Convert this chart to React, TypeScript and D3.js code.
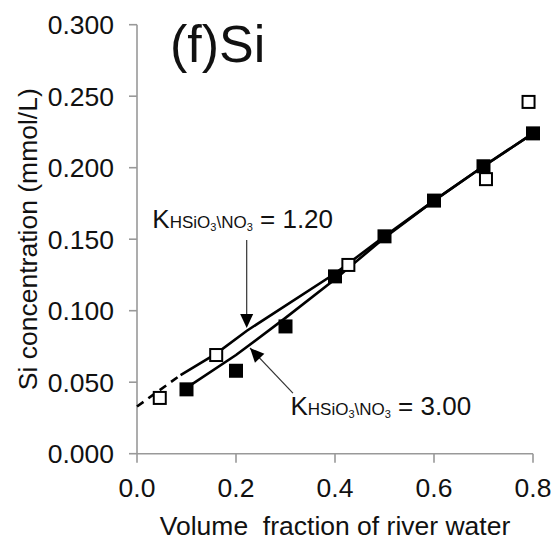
import React from "react";
import * as d3 from "d3";

// ---- data ----
const filledX = [0.1, 0.2, 0.3, 0.4, 0.5, 0.6, 0.7, 0.8];
const filledY = [0.045, 0.058, 0.089, 0.124, 0.152, 0.177, 0.201, 0.224];
const openX = [0.046, 0.16, 0.427, 0.705, 0.791];
const openY = [0.039, 0.069, 0.132, 0.192, 0.246];
// model line K = 1.20 (upper)
const k120DashX = [0.0, 0.088];
const k120DashY = [0.033, 0.055];
const k120X = [0.088, 0.16, 0.222, 0.4, 0.5, 0.6, 0.7, 0.8];
const k120Y = [0.055, 0.07, 0.086, 0.126, 0.152, 0.177, 0.201, 0.224];
// model line K = 3.00 (lower)
const k300X = [0.1, 0.2, 0.3, 0.4, 0.5, 0.6, 0.7, 0.8];
const k300Y = [0.046, 0.069, 0.095, 0.122, 0.151, 0.177, 0.201, 0.224];
const xTicks = [0.0, 0.2, 0.4, 0.6, 0.8];
const yTicks = [0.0, 0.05, 0.1, 0.15, 0.2, 0.25, 0.3];
const title = "(f)Si";
const xLabel = "Volume  fraction of river water";
const yLabel = "Si concentration (mmol/L)";
const kValues = ["1.20", "3.00"];

const FONT = "'Liberation Sans', Arial, sans-serif";

export default function App() {
  const x = d3.scaleLinear().domain([0, 0.8]).range([137, 533]);
  const y = d3.scaleLinear().domain([0, 0.3]).range([453.7, 24.7]);
  const line = d3
    .line<[number, number]>()
    .x((d) => x(d[0]))
    .y((d) => y(d[1]));
  const zip = (a: number[], b: number[]) =>
    a.map((v, i) => [v, b[i]] as [number, number]);

  const fmtY = d3.format(".3f");
  const fmtX = d3.format(".1f");

  // annotation anchors (data units)
  const a1Tip = [0.2216, 0.0879];
  const a1Start = [0.2216, 0.1494];
  const a2Tip = [0.2283, 0.0739];
  const a2Tail = [0.315, 0.0424];
  const l1 = [0.031, 0.1578];
  const l2 = [0.31, 0.0271];

  const arrowHead = (tx: number, ty: number, fx: number, fy: number) => {
    const ang = Math.atan2(ty - fy, tx - fx);
    const len = 14,
      half = 6.5;
    const bx = tx - len * Math.cos(ang),
      by = ty - len * Math.sin(ang);
    const px = -Math.sin(ang) * half,
      py = Math.cos(ang) * half;
    return `M${tx},${ty}L${bx + px},${by + py}L${bx - px},${by - py}Z`;
  };

  const kLabel = (pos: number[], val: string, key: string) => (
    <text
      key={key}
      x={x(pos[0])}
      y={y(pos[1])}
      fontSize={26}
      fontFamily={FONT}
      fill="#111"
      style={{ whiteSpace: "pre" }}
    >
      K
      <tspan fontSize={17}>HSiO</tspan>
      <tspan fontSize={11} dy={3}>3</tspan>
      <tspan fontSize={17} dy={-3}>{"\\NO"}</tspan>
      <tspan fontSize={11} dy={3}>3</tspan>
      <tspan fontSize={26} dy={-3}>{" = " + val}</tspan>
    </text>
  );

  const a1t = [x(a1Tip[0]), y(a1Tip[1])];
  const a1s = [x(a1Start[0]), y(a1Start[1])];
  const a2t = [x(a2Tip[0]), y(a2Tip[1])];
  const a2s = [x(a2Tail[0]), y(a2Tail[1])];

  return (
    <svg
      width={560}
      height={541}
      style={{ position: "absolute", left: 0, top: 0, background: "#fff" }}
    >
      {/* axes */}
      <g stroke="#999" strokeWidth={1.6} fill="none">
        <line x1={137} x2={137} y1={y(0.3)} y2={y(0)} />
        <line x1={137} x2={x(0.8)} y1={y(0)} y2={y(0)} />
        {yTicks.map((t) => (
          <line key={"yt" + t} x1={129} x2={137} y1={y(t)} y2={y(t)} />
        ))}
        {xTicks.map((t) => (
          <line key={"xt" + t} x1={x(t)} x2={x(t)} y1={y(0)} y2={y(0) + 9} />
        ))}
      </g>
      <g fontFamily={FONT} fontSize={26.5} fill="#111">
        {yTicks.map((t) => (
          <text key={"yl" + t} x={114} y={y(t) + 9.5} textAnchor="end">
            {fmtY(t)}
          </text>
        ))}
        {xTicks.map((t) => (
          <text key={"xl" + t} x={x(t)} y={497} textAnchor="middle">
            {fmtX(t)}
          </text>
        ))}
        <text x={335} y={535} textAnchor="middle" style={{ whiteSpace: "pre" }}>
          {xLabel}
        </text>
        <text
          transform={`translate(37,${y(0.15)}) rotate(-90)`}
          textAnchor="middle"
        >
          {yLabel}
        </text>
      </g>
      <text x={170} y={62} fontFamily={FONT} fontSize={52} fill="#111">
        {title}
      </text>

      {/* model lines */}
      <path
        d={line(zip(k120DashX, k120DashY)) || ""}
        fill="none"
        stroke="#000"
        strokeWidth={2.6}
        strokeDasharray="8,6"
      />
      <path
        d={line(zip(k120X, k120Y)) || ""}
        fill="none"
        stroke="#000"
        strokeWidth={2.6}
      />
      <path
        d={line(zip(k300X, k300Y)) || ""}
        fill="none"
        stroke="#000"
        strokeWidth={2.6}
      />

      {/* markers */}
      {zip(filledX, filledY).map((d, i) => (
        <rect
          key={"f" + i}
          x={x(d[0]) - 7}
          y={y(d[1]) - 7}
          width={14}
          height={14}
          fill="#000"
        />
      ))}
      {zip(openX, openY).map((d, i) => (
        <rect
          key={"o" + i}
          x={x(d[0]) - 6}
          y={y(d[1]) - 6}
          width={12}
          height={12}
          fill="#fff"
          stroke="#000"
          strokeWidth={2}
        />
      ))}

      {/* annotations */}
      <line
        x1={a1s[0]}
        y1={a1s[1]}
        x2={a1t[0]}
        y2={a1t[1] - 10}
        stroke="#333"
        strokeWidth={1.2}
      />
      <path d={arrowHead(a1t[0], a1t[1], a1s[0], a1s[1])} fill="#000" />
      <line
        x1={a2s[0]}
        y1={a2s[1]}
        x2={a2t[0]}
        y2={a2t[1]}
        stroke="#333"
        strokeWidth={1.2}
      />
      <path d={arrowHead(a2t[0], a2t[1], a2s[0], a2s[1])} fill="#000" />
      {kLabel(l1, kValues[0], "k1")}
      {kLabel(l2, kValues[1], "k2")}
    </svg>
  );
}
